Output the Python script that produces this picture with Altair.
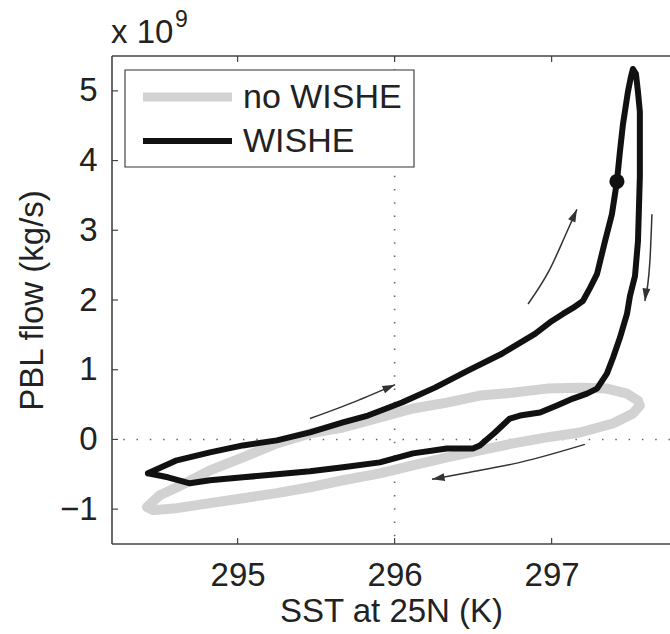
import altair as alt
import pandas as pd

# ---------------- data ----------------
SST_WISHE = [294.429, 294.613, 294.824, 295.034, 295.250, 295.461, 295.671, 295.830,
             296.047, 296.257, 296.467, 296.683, 296.894, 297.002, 297.072, 297.136,
             297.199, 297.244, 297.289, 297.340, 297.384, 297.416, 297.435, 297.454,
             297.486, 297.505, 297.518, 297.537, 297.550, 297.562, 297.562, 297.550,
             297.531, 297.499, 297.480, 297.435, 297.391, 297.352, 297.289, 297.225,
             297.136, 297.034, 296.926, 296.799, 296.734, 296.639, 296.543, 296.499,
             296.333, 296.117, 295.906, 295.671, 295.461, 295.250, 295.034, 294.824,
             294.696, 294.556, 294.429]
PBL_WISHE = [-0.486, -0.300, -0.186, -0.086, -0.014, 0.100, 0.243, 0.343,
             0.529, 0.743, 0.986, 1.229, 1.514, 1.700, 1.800, 1.886,
             1.986, 2.171, 2.371, 2.843, 3.229, 3.700, 4.129, 4.514,
             4.986, 5.200, 5.314, 5.243, 4.986, 4.700, 3.771, 2.843,
             2.343, 2.057, 1.800, 1.457, 1.171, 0.943, 0.729, 0.657,
             0.586, 0.486, 0.386, 0.343, 0.300, 0.100, -0.086, -0.129,
             -0.129, -0.200, -0.329, -0.400, -0.457, -0.500, -0.543, -0.586,
             -0.629, -0.543, -0.486]

SST_NOWISHE = [294.423, 294.505, 294.614, 294.741, 294.824, 295.034, 295.250, 295.461,
               295.671, 295.906, 296.117, 296.333, 296.543, 296.754, 296.970, 297.180,
               297.352, 297.480, 297.550, 297.562, 297.518, 297.391, 297.180, 296.970,
               296.754, 296.543, 296.333, 296.117, 295.906, 295.671, 295.461, 295.250,
               295.034, 294.824, 294.614, 294.461, 294.423]
PBL_NOWISHE = [-0.971, -0.800, -0.686, -0.543, -0.443, -0.257, -0.057, 0.086,
               0.171, 0.314, 0.443, 0.529, 0.629, 0.671, 0.729, 0.743,
               0.729, 0.657, 0.557, 0.486, 0.371, 0.229, 0.100, 0.029,
               -0.057, -0.157, -0.257, -0.371, -0.486, -0.586, -0.686, -0.771,
               -0.843, -0.914, -0.986, -1.014, -0.971]

DOT_SST = [297.416]
DOT_PBL = [3.70]

# direction arrows (shaft points, tip last) and head angles (deg, clockwise from up)
ARROW_SST = [[295.461, 295.748, 296.003],
             [296.850, 296.989, 297.085, 297.161],
             [297.639, 297.626, 297.594],
             [297.212, 296.799, 296.480, 296.238]]
ARROW_PBL = [[0.300, 0.543, 0.786],
             [1.943, 2.443, 2.914, 3.300],
             [3.229, 2.557, 1.986],
             [-0.071, -0.329, -0.471, -0.571]]
ARROW_ANGLE = [67, 24, 187, 260]

X_TICKS = [295, 296, 297]
Y_TICKS = [-1, 0, 1, 2, 3, 4, 5]
REF_X = [296]
REF_Y = [0]
LEGEND_LABELS = ["no WISHE", "WISHE"]

# ---------------- layout / style ----------------
W, H = 558, 488
FONT = "Liberation Sans"
TXT = "#222222"
GRAY = "#d2d2d2"
BLACK = "#111111"

xs = alt.Scale(domain=[294.2, 297.754], nice=False, zero=False)
ys = alt.Scale(domain=[-1.5, 5.5], nice=False, zero=False)

X_AX = alt.Axis(values=X_TICKS, format="d", title="SST at 25N (K)",
                grid=False, domain=False, ticks=False,
                labelFontSize=33, labelFont=FONT, labelColor=TXT,
                labelPadding=15, titleFontSize=33, titleFont=FONT,
                titleFontWeight="normal", titleColor=TXT, titlePadding=3)
Y_AX = alt.Axis(values=Y_TICKS, format="d", title="PBL flow (kg/s)",
                grid=False, domain=False, ticks=False,
                labelFontSize=33, labelFont=FONT, labelColor=TXT,
                labelPadding=15, titleFontSize=33, titleFont=FONT,
                titleFontWeight="normal", titleColor=TXT, titlePadding=10)


def X(f):
    return alt.X(f, scale=xs, axis=X_AX)


def Y(f):
    return alt.Y(f, scale=ys, axis=Y_AX)


one = pd.DataFrame({"k": [0]})

ref_x = alt.Chart(pd.DataFrame({"x": REF_X})).mark_rule(
    color="#666666", strokeWidth=1.6, strokeDash=[1.5, 11.8]).encode(x=X("x:Q"))
ref_y = alt.Chart(pd.DataFrame({"y": REF_Y})).mark_rule(
    color="#666666", strokeWidth=1.6, strokeDash=[1.5, 11.8]).encode(y=Y("y:Q"))

nw_df = pd.DataFrame({"sst": SST_NOWISHE, "pbl": PBL_NOWISHE,
                      "i": list(range(len(SST_NOWISHE)))})
nowishe = alt.Chart(nw_df).mark_line(
    color=GRAY, strokeWidth=10, strokeJoin="round", strokeCap="round").encode(
    x=X("sst:Q"), y=Y("pbl:Q"), order="i:Q")

w_df = pd.DataFrame({"sst": SST_WISHE, "pbl": PBL_WISHE,
                     "i": list(range(len(SST_WISHE)))})
wishe = alt.Chart(w_df).mark_line(
    color=BLACK, strokeWidth=6, strokeJoin="round", strokeCap="round").encode(
    x=X("sst:Q"), y=Y("pbl:Q"), order="i:Q")

dot = alt.Chart(pd.DataFrame({"sst": DOT_SST, "pbl": DOT_PBL})).mark_point(
    filled=True, color=BLACK, size=230, opacity=1).encode(
    x=X("sst:Q"), y=Y("pbl:Q"))

arrow_layers = []
HEAD = "M0,0L0.5,1.6L-0.5,1.6Z"
for k in range(len(ARROW_SST)):
    adf = pd.DataFrame({"sst": ARROW_SST[k], "pbl": ARROW_PBL[k],
                        "i": list(range(len(ARROW_SST[k])))})
    shaft = alt.Chart(adf).mark_line(
        color="#333333", strokeWidth=1.5, interpolate="monotone").encode(
        x=X("sst:Q"), y=Y("pbl:Q"), order="i:Q")
    tip = pd.DataFrame({"sst": [ARROW_SST[k][-1]], "pbl": [ARROW_PBL[k][-1]]})
    head = alt.Chart(tip).mark_point(
        shape=HEAD, filled=True, color="#333333", size=250, opacity=1,
        angle=ARROW_ANGLE[k]).encode(x=X("sst:Q"), y=Y("pbl:Q"))
    arrow_layers += [shaft, head]

# frame (top, left, bottom) and inward ticks
frame_col = "#444444"
frame = [
    alt.Chart(one).mark_rule(color=frame_col, strokeWidth=1.6).encode(
        x=alt.value(0), x2=alt.value(W), y=alt.value(0)),
    alt.Chart(one).mark_rule(color=frame_col, strokeWidth=1.6).encode(
        x=alt.value(0), x2=alt.value(W), y=alt.value(H)),
    alt.Chart(one).mark_rule(color=frame_col, strokeWidth=1.6).encode(
        x=alt.value(0), y=alt.value(0), y2=alt.value(H)),
]
xt = pd.DataFrame({"x": X_TICKS})
yt = pd.DataFrame({"y": Y_TICKS})
ticks = [
    alt.Chart(xt).mark_rule(color=frame_col, strokeWidth=1.2).encode(
        x=X("x:Q"), y=alt.value(H - 6), y2=alt.value(H)),
    alt.Chart(xt).mark_rule(color=frame_col, strokeWidth=1.2).encode(
        x=X("x:Q"), y=alt.value(0), y2=alt.value(6)),
    alt.Chart(yt).mark_rule(color=frame_col, strokeWidth=1.2).encode(
        y=Y("y:Q"), x=alt.value(0), x2=alt.value(6)),
]

# legend
legend = [
    alt.Chart(one).mark_rect(fill="white", stroke="#333333", strokeWidth=1.1).encode(
        x=alt.value(13), x2=alt.value(302), y=alt.value(14), y2=alt.value(111)),
    alt.Chart(one).mark_rule(color=GRAY, strokeWidth=9).encode(
        x=alt.value(31), x2=alt.value(120), y=alt.value(41)),
    alt.Chart(one).mark_rule(color=BLACK, strokeWidth=6).encode(
        x=alt.value(31), x2=alt.value(120), y=alt.value(85)),
    alt.Chart(one).mark_text(text=LEGEND_LABELS[0], font=FONT, fontSize=34, color=TXT,
                             align="left", baseline="middle").encode(
        x=alt.value(131), y=alt.value(42)),
    alt.Chart(one).mark_text(text=LEGEND_LABELS[1], font=FONT, fontSize=34, color=TXT,
                             align="left", baseline="middle").encode(
        x=alt.value(131), y=alt.value(86)),
]

# exponent label
expo = [
    alt.Chart(one).mark_text(text="x 10", font=FONT, fontSize=33, color=TXT,
                             align="left", baseline="alphabetic").encode(
        x=alt.value(-1), y=alt.value(-13)),
    alt.Chart(one).mark_text(text="9", font=FONT, fontSize=23, color=TXT,
                             align="left", baseline="alphabetic").encode(
        x=alt.value(63), y=alt.value(-29)),
]

chart = alt.layer(
    ref_x, ref_y, nowishe, wishe, dot, *arrow_layers, *frame, *ticks,
    *legend, *expo
).properties(
    width=W, height=H,
    autosize=alt.AutoSizeParams(type="none"),
    padding={"left": 112, "top": 56, "right": 0, "bottom": 90},
    background="white",
).configure_view(stroke=None)

chart.save("out.html", embed_options={"renderer": "svg", "actions": False})
